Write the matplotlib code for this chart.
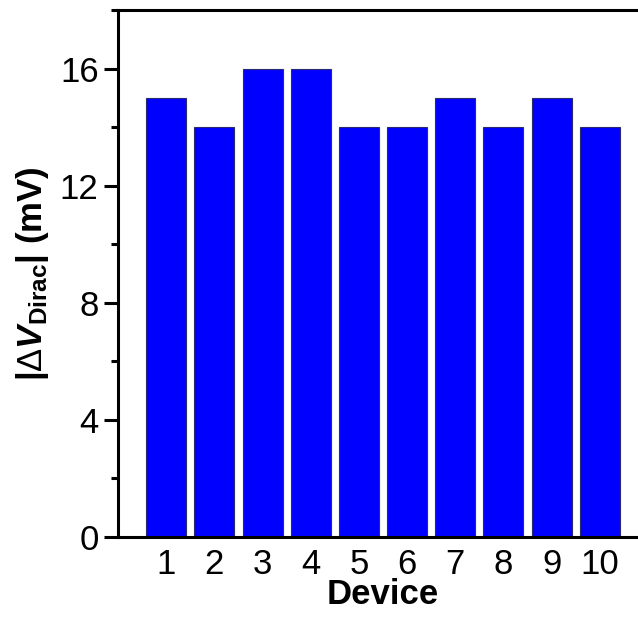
import matplotlib
matplotlib.use('Agg')
import matplotlib.pyplot as plt
from matplotlib.ticker import MultipleLocator

devices = [1, 2, 3, 4, 5, 6, 7, 8, 9, 10]
dv_dirac = [15, 14, 16, 16, 14, 14, 15, 14, 15, 14]

plt.rcParams['font.family'] = ['Liberation Sans', 'DejaVu Sans']
plt.rcParams['mathtext.fontset'] = 'custom'
plt.rcParams['mathtext.rm'] = 'Liberation Sans'
plt.rcParams['mathtext.it'] = 'Liberation Sans:italic:bold'
plt.rcParams['mathtext.bf'] = 'Liberation Sans:bold'

fig = plt.figure(figsize=(6.38, 6.17), dpi=100)
ax = fig.add_axes([118/638, 1 - 537/617, 530/638, 527/617])

ax.bar(devices, dv_dirac, width=0.83, color='#0000ff', edgecolor='#2a2a70', linewidth=0.8)

ax.set_xlim(0, 11)
ax.set_ylim(0, 18)
ax.set_xticks(devices)
ax.yaxis.set_major_locator(MultipleLocator(4))
ax.yaxis.set_minor_locator(MultipleLocator(2))

for s in ax.spines.values():
    s.set_linewidth(2.2)

ax.tick_params(axis='y', which='major', direction='out', length=10, width=2.2, labelsize=25, pad=4)
ax.tick_params(axis='y', which='minor', direction='out', length=5, width=2.2)
ax.tick_params(axis='x', which='both', length=0, labelsize=25, pad=8)

ax.set_xlabel('Device', fontsize=25, fontweight='bold', labelpad=-2)
ax.set_ylabel(r'$\mathbf{|}\Delta\mathit{V}_{\mathbf{Dirac}}\mathbf{|}$ (mV)',
              fontsize=25, fontweight='bold', labelpad=6)

fig.savefig('out.png', dpi=100)
